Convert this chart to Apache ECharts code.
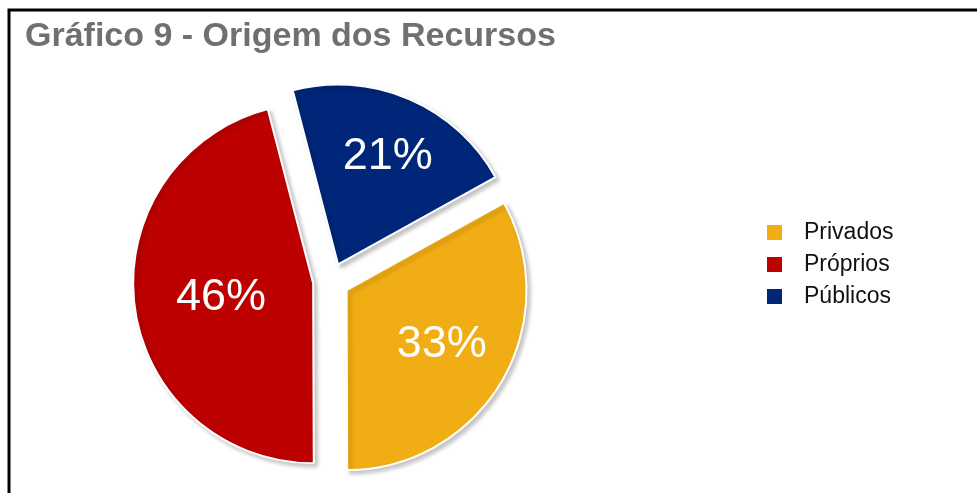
<!DOCTYPE html>
<html>
<head>
<meta charset="utf-8">
<script src="https://cdn.jsdelivr.net/npm/echarts@6/dist/echarts.min.js"></script>
<style>
  html, body { margin: 0; padding: 0; background: #fff; }
  #main { width: 977px; height: 493px; }
</style>
</head>
<body>
<div id="main"></div>
<script>
// dados do gráfico
var categorias = ['Privados', 'Próprios', 'Públicos'];
var valores = [33, 46, 21];

var myChart = echarts.init(document.getElementById('main'));

// estilo por fatia
var cores = ['#F0AD14', '#BD0000', '#00267A'];
var deslocRotulo = [[15, 7], [0, 2], [13, -22]];

var dados = categorias.map(function (nome, i) {
    return {
        name: nome,
        value: valores[i],
        selected: true,
        itemStyle: { color: cores[i] }
    };
});

var option = {
    animation: false,
    title: {
        text: 'Gráfico 9 - Origem dos Recursos',
        left: 20,
        top: 15,
        textStyle: {
            fontFamily: 'Liberation Sans, Arial, sans-serif',
            fontSize: 34,
            fontWeight: 'bold',
            color: '#707070'
        }
    },
    legend: {
        orient: 'vertical',
        left: 765,
        top: 221,
        padding: 0,
        icon: 'rect',
        itemWidth: 17,
        itemHeight: 17,
        itemGap: 9,
        data: categorias,
        textStyle: {
            fontFamily: 'Liberation Sans, Arial, sans-serif',
            fontSize: 23,
            color: '#111',
            padding: [0, 0, 0, 16]
        }
    },
    series: [{
        type: 'pie',
        center: [331, 281],
        radius: 180,
        startAngle: 29,
        clockwise: true,
        selectedMode: 'multiple',
        selectedOffset: 18,
        data: dados,
        itemStyle: {
            borderColor: '#fff',
            borderWidth: 2,
            shadowColor: 'rgba(0,0,0,0.22)',
            shadowBlur: 4,
            shadowOffsetX: 3,
            shadowOffsetY: 3
        },
        label: {
            show: true,
            position: 'inside',
            formatter: '{c}%',
            fontFamily: 'Liberation Sans, Arial, sans-serif',
            fontSize: 45,
            color: '#fff',
            textBorderWidth: 0
        },
        labelLayout: function (params) {
            var d = deslocRotulo[params.dataIndex];
            return { dx: d[0], dy: d[1] };
        },
        labelLine: { show: false },
        emphasis: { disabled: true }
    }],
    graphic: [{
        type: 'polyline',
        shape: { points: [[9, 493], [9, 10], [977, 10]] },
        style: { stroke: '#000', lineWidth: 3, fill: null },
        silent: true
    }]
};

myChart.setOption(option);
</script>
</body>
</html>
